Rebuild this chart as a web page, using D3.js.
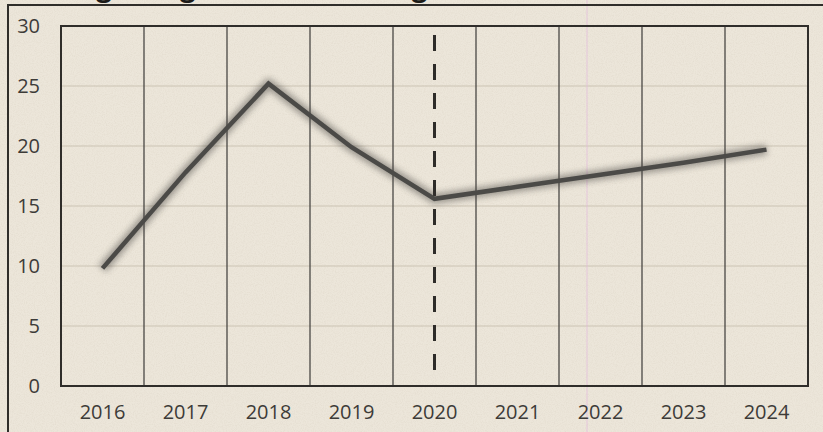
<!DOCTYPE html>
<html>
<head>
<meta charset="utf-8">
<script src="https://cdn.jsdelivr.net/npm/d3@7"></script>
<style>
  html, body { margin: 0; padding: 0; background: #ebe5d9; }
  svg { display: block; }
  .tick text { font-family: "Open Sans", sans-serif; font-size: 20px; fill: #3d3b38; }
</style>
</head>
<body>
<div id="chart"></div>
<script>
// values
var years = ["2016", "2017", "2018", "2019", "2020", "2021", "2022", "2023", "2024"];
var growth = [9.8, 17.8, 25.2, 19.9, 15.6, 16.6, 17.6, 18.6, 19.7];
var yTicks = [0, 5, 10, 15, 20, 25, 30];
var markerYear = "2020";
var title = "Average Wage Growth among Rural Labourers (in %)";

var width = 823, height = 432;
var margin = {top: 26, right: 15, bottom: 46, left: 61};

var svg = d3.select("#chart").append("svg")
  .attr("width", width)
  .attr("height", height);

var defs = svg.append("defs");

// paper grain
var grain = defs.append("filter").attr("id", "grain")
  .attr("x", 0).attr("y", 0).attr("width", "100%").attr("height", "100%");
grain.append("feTurbulence")
  .attr("type", "fractalNoise")
  .attr("baseFrequency", 0.9)
  .attr("numOctaves", 2)
  .attr("seed", 4);
grain.append("feColorMatrix")
  .attr("type", "matrix")
  .attr("values", "0 0 0 0 0.55  0 0 0 0 0.48  0 0 0 0 0.38  0 0 0 -0.9 0.55");

var blur = defs.append("filter").attr("id", "soft")
  .attr("x", "-10%").attr("y", "-20%").attr("width", "120%").attr("height", "140%");
blur.append("feGaussianBlur").attr("stdDeviation", 3.2);

svg.append("rect")
  .attr("width", width).attr("height", height)
  .attr("fill", "#ece6da");
svg.append("rect")
  .attr("width", width).attr("height", height)
  .attr("filter", "url(#grain)")
  .attr("opacity", 0.4);

var x = d3.scaleBand()
  .domain(years)
  .range([margin.left, width - margin.right]);

var y = d3.scaleLinear()
  .domain([0, 30])
  .range([height - margin.bottom, margin.top]);

var cx = function(yr) { return x(yr) + x.bandwidth() / 2; };

// horizontal grid (faint)
svg.append("g")
  .selectAll("line")
  .data(yTicks.filter(function(t) { return t > 0 && t < 30; }))
  .enter().append("line")
  .attr("x1", margin.left).attr("x2", width - margin.right)
  .attr("y1", function(d) { return y(d); })
  .attr("y2", function(d) { return y(d); })
  .attr("stroke", "#cbc3b3")
  .attr("stroke-width", 1.2);

// vertical grid between the years
svg.append("g")
  .selectAll("line")
  .data(years.slice(1))
  .enter().append("line")
  .attr("x1", function(d) { return x(d); })
  .attr("x2", function(d) { return x(d); })
  .attr("y1", y(30)).attr("y2", y(0))
  .attr("stroke", "#4a4844")
  .attr("stroke-width", 1.3);

// scanner streak
svg.append("line")
  .attr("x1", 587).attr("x2", 587)
  .attr("y1", 0).attr("y2", height)
  .attr("stroke", "#e2b9dc")
  .attr("stroke-width", 1)
  .attr("opacity", 0.7);

// plot frame
svg.append("rect")
  .attr("x", margin.left).attr("y", y(30))
  .attr("width", x.range()[1] - margin.left)
  .attr("height", y(0) - y(30))
  .attr("fill", "none")
  .attr("stroke", "#2f2d2a")
  .attr("stroke-width", 2);

// outer frame (left and top edges)
svg.append("path")
  .attr("d", "M8," + height + "V5H" + width)
  .attr("fill", "none")
  .attr("stroke", "#2f2d2a")
  .attr("stroke-width", 2);

// title, cut off by the top edge as in the scan
svg.append("text")
  .attr("x", 745)
  .attr("y", -4)
  .attr("text-anchor", "end")
  .style("font-family", "'Open Sans', sans-serif")
  .style("font-weight", "bold")
  .style("font-size", "28px")
  .attr("fill", "#1c1b19")
  .text(title);

// dashed marker at 2020
svg.append("line")
  .attr("x1", cx(markerYear)).attr("x2", cx(markerYear))
  .attr("y1", 35).attr("y2", y(0) - 6)
  .attr("stroke", "#2e2c29")
  .attr("stroke-width", 3)
  .attr("stroke-dasharray", "16,13");

// axes
var yAxis = d3.axisLeft(y).tickValues(yTicks).tickSize(0).tickPadding(21);
svg.append("g")
  .attr("transform", "translate(" + margin.left + ",0)")
  .call(yAxis)
  .call(function(g) { g.select(".domain").remove(); });

var xAxis = d3.axisBottom(x).tickSize(0).tickPadding(19);
svg.append("g")
  .attr("transform", "translate(0," + y(0) + ")")
  .call(xAxis)
  .call(function(g) { g.select(".domain").remove(); });

// line
var line = d3.line()
  .x(function(d, i) { return cx(years[i]); })
  .y(function(d) { return y(d); });

svg.append("path")
  .datum(growth)
  .attr("d", line)
  .attr("fill", "none")
  .attr("stroke", "#3a3936")
  .attr("stroke-width", 10)
  .attr("stroke-linejoin", "round")
  .attr("opacity", 0.45)
  .attr("filter", "url(#soft)");

svg.append("path")
  .datum(growth)
  .attr("d", line)
  .attr("fill", "none")
  .attr("stroke", "#4b4a47")
  .attr("stroke-width", 4.5)
  .attr("stroke-linejoin", "miter")
  .attr("stroke-linecap", "butt");
</script>
</body>
</html>
